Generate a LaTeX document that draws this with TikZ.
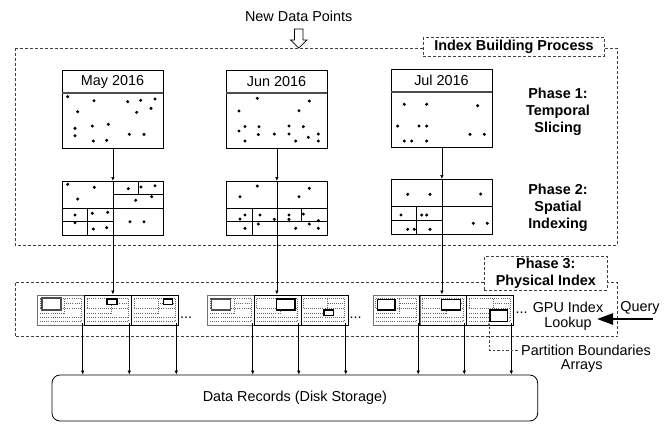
\documentclass[tikz,border=0pt]{standalone}
\usepackage{fontspec}
\setmainfont{Liberation Sans}
\usetikzlibrary{arrows.meta,calc}
\begin{document}
\begin{tikzpicture}[x=1pt,y=-1pt,
  every node/.style={font=\fontsize{14.4}{16.5}\selectfont, inner sep=0pt},
  dbox/.style={draw=black!75, dash pattern=on 3pt off 2pt, line width=0.8pt},
  lbl/.style={dbox, fill=white, font=\fontsize{14.4}{16.7}\selectfont\bfseries, align=center},
  phase/.style={font=\fontsize{14.4}{17}\selectfont\bfseries, align=center},
  slicebox/.style={draw, line width=0.8pt, minimum width=101pt, minimum height=78pt, anchor=north west},
  partbox/.style={draw, line width=0.8pt, minimum width=101pt, minimum height=54pt, anchor=north west},
  blk/.style={draw, line width=0.8pt, minimum width=47pt, minimum height=30.5pt, anchor=north west},
  firstblk/.style={blk, draw=black!55, line width=1.2pt},
  hdr/.style={draw=black!70, line width=1.6pt},
  pline/.style={line width=0.8pt},
  dotl/.style={draw=black!60, line width=0.6pt, dash pattern=on 0.6pt off 1.5pt},
  srect/.style={draw, line width=1.1pt, fill=white},
  arr/.style={line width=0.7pt, -{Latex[length=4pt,width=3.5pt]}},
  pt/.style={fill=black}
]
\fill[white] (0,0) rectangle (672,424);
\useasboundingbox (0,0) rectangle (672,424);

% ---------- top ----------
\node (ndp) at (298.7,16) {New Data Points};
\draw[dbox] (15,48) rectangle (617,245);
\draw[line width=0.7pt, fill=white] (294.5,29) -- (303,29) -- (303,40) -- (307,40)
  -- (298.7,48) -- (290.5,40) -- (294.5,40) -- cycle;
\node[lbl, minimum width=181pt, minimum height=18.5pt] (ibp) at (513.9,46.9) {Index Building Process};

% ---------- phase 1 boxes ----------
\node[slicebox] (may1) at (62,70) {};
\node[slicebox] (jun1) at (226,70) {};
\node[slicebox] (jul1) at (391,69) {};
\draw[hdr] (62,93) -- (163,93);
\draw[hdr] (226,93) -- (327,93);
\draw[hdr] (391,92) -- (492,92);
\node (maylbl) at (112.5,81.5) {May 2016};
\node (junlbl) at (276.5,81.5) {Jun 2016};
\node (jullbl) at (441.5,80.5) {Jul 2016};

\foreach \x/\y in {67.7/96.7, 94/100.7, 127.7/101.7, 140.7/100.3, 155/99, 77.7/111.7,
  136.7/112.3, 151/108.3, 75/128.3, 92.3/126, 108.3/124.3, 75/135.7, 93.3/141,
  106.7/140.3, 129.3/134.3, 144/134.3}
  \fill[pt] (\x,\y) circle[radius=1.7pt];
\foreach \x/\y in {257.3/98.3, 239/111, 299/110.7, 309.3/101, 239/131, 245/126.5,
  259/126.7, 245/141, 258.3/134.5, 274.3/134, 289/126, 289/134, 303.3/126.7,
  295.7/141, 308.3/137.3, 318.3/134, 318.3/141}
  \fill[pt] (\x,\y) circle[radius=1.7pt];
\foreach \x/\y in {404.3/104.3, 426.7/104.3, 397.7/126, 419/126, 426.7/126,
  404.3/141, 411.7/141, 426.7/141, 477.7/105.7, 470/134.3, 484.3/134.3}
  \fill[pt] (\x,\y) circle[radius=1.7pt];

\node[phase] (ph1) at (558,112) {Phase 1:\\Temporal\\Slicing};

% ---------- phase 2 boxes ----------
\node[partbox] (may2) at (62,181) {};
\node[partbox] (jun2) at (226,181) {};
\node[partbox, minimum height=55pt] (jul2) at (391,179) {};

\draw[pline] (62,208) -- (163,208);
\draw[pline] (112.5,194) -- (163,194);
\draw[pline] (138,181) -- (138,194);
\draw[pline] (87,208) -- (87,235);
\draw[pline] (62,221) -- (112.5,221);

\draw[pline] (226,208) -- (327,208);
\draw[pline] (226,221.7) -- (327,221.7);
\draw[pline] (252.3,208) -- (252.3,235);
\draw[pline] (301.7,208) -- (301.7,221.7);

\draw[pline] (391,206.7) -- (492,206.7);
\draw[pline] (416.7,206.7) -- (416.7,234);
\draw[pline] (391,220) -- (441.5,220);

\foreach \x/\y in {67.7/184.3, 94.3/187.3, 77.7/199, 128.3/188.7, 141/187, 155/185.7,
  151.7/196.7, 135.7/200.3, 75/215, 92.3/213.3, 107.7/212.3, 75/222.7, 93.3/229,
  106.7/227.7, 130/221.7, 144/221.7}
  \fill[pt] (\x,\y) circle[radius=1.7pt];
\foreach \x/\y in {257.3/186, 240/196.7, 299/196.7, 309.3/188.3, 245/215, 260/215,
  289/215, 303.3/214, 289/219.3, 274.3/219.3, 258.3/224, 245/228.3, 295.7/228.3,
  309.3/224, 318.3/220.7, 318.3/228.3, 240/219}
  \fill[pt] (\x,\y) circle[radius=1.7pt];
\foreach \x/\y in {407.7/194.3, 430/194.3, 401/215, 421.7/215, 426.7/215, 407.7/229.3,
  414.3/229.3, 430/229.3, 480.7/194, 473.3/223.3, 487.3/223.3}
  \fill[pt] (\x,\y) circle[radius=1.7pt];

\node[phase] (ph2) at (558,207.5) {Phase 2:\\Spatial\\Indexing};

% ---------- phase 3: physical index ----------
\draw[dbox] (15,282.5) rectangle (617.7,336.7);
\node[lbl, minimum width=123pt, minimum height=33.3pt] (ph3) at (545.8,273.3) {Phase 3:\\Physical Index};

\node[firstblk] (g1b1) at (37,294.5) {};
\node[blk] (g1b2) at (84,294.5) {};
\node[blk] (g1b3) at (131,294.5) {};
\node[firstblk] (g2b1) at (207,294.5) {};
\node[blk] (g2b2) at (253.5,294.5) {};
\node[blk] (g2b3) at (300.5,294.5) {};
\node[firstblk] (g3b1) at (372.5,294.5) {};
\node[blk] (g3b2) at (419,294.5) {};
\node[blk] (g3b3) at (466,294.5) {};

\foreach \b in {g1b1,g1b2,g1b3,g2b1,g2b2,g2b3,g3b1,g3b2,g3b3}{
  \begin{scope}[shift={(\b.north west)}]
    \draw[dotl] (3,4) -- (44,4);
    \draw[dotl] (27,9) -- (44,9);
    \draw[dotl] (3,14) -- (44,14);
    \draw[dotl] (3,19) -- (27,19);
    \draw[dotl] (3,23) -- (44,23);
    \draw[dotl] (3,27) -- (44,27);
    \draw[dotl] (27,4) -- (27,19);
    \draw[dotl] (44,4) -- (44,27);
    \draw[dotl] (3,4) -- (3,14);
  \end{scope}
}
\draw[srect, draw=black!70, line width=1.3pt] (42,298) rectangle (61,310);
\draw[srect] (107,299) rectangle (117,304.5);
\draw[srect] (163.3,299) rectangle (172.7,304.5);
\draw[srect, draw=black!70, line width=1.3pt] (211.7,299) rectangle (230.7,310);
\draw[srect] (276.7,299) rectangle (295,310);
\draw[srect] (324,310) rectangle (333.3,315.5);
\draw[srect] (377.3,299.3) rectangle (395,310);
\draw[srect] (441.7,299.3) rectangle (460.7,310);
\draw[srect] (490,310) rectangle (507.7,321.7);

\node (el1) at (186,318) {...};
\node (el2) at (355.5,318) {...};
\node (el3) at (521.7,313) {...};

\node[align=center, font=\fontsize{14.4}{15}\selectfont] (gpu) at (568,316) {GPU Index\\Lookup};
\node (query) at (640,308.3) {Query};
\coordinate (qs) at (653,319);
\coordinate (qe) at (597,319);
\draw[line width=2.6pt, -{Triangle[length=16pt,width=11pt]}] (qs) -- (qe);

% ---------- data records ----------
\node[draw, line width=0.8pt, rounded corners=8pt, minimum width=485.7pt, minimum height=46pt]
  (data) at (294.85,398) {Data Records (Disk Storage)};

% ---------- connectors ----------
\draw[arr] (may1.south) -- (may2.north);
\draw[arr] (jun1.south) -- (jun2.north);
\draw[arr] (jul1.south) -- (jul2.north);
\draw[arr] (may2.north) -- (may2.north |- g1b2.north);
\draw[arr] (jun2.north) -- (jun2.north |- g2b2.north);
\draw[arr] (jul2.north) -- (jul2.north |- g3b2.north);

\foreach \b in {g1b1,g1b2,g1b3,g2b1,g2b2,g2b3,g3b1,g3b2,g3b3}{
  \coordinate (\b-t) at ($(\b.south east)+(-2.5,0)$);
  \draw[arr] ($(\b-t)+(0,-3)$) -- (\b-t |- data.north);
}

\node (pb1) at (586,350) {Partition Boundaries};
\node (pb2) at (581.7,366) {Arrays};
\coordinate (pbt) at (489,322.5);
\draw[draw=black!75, line width=0.6pt, dash pattern=on 2.5pt off 2pt,
  -{Latex[length=3.5pt,width=3pt]}] ([xshift=-3pt]pb1.west) -| (pbt);
\end{tikzpicture}
\end{document}
